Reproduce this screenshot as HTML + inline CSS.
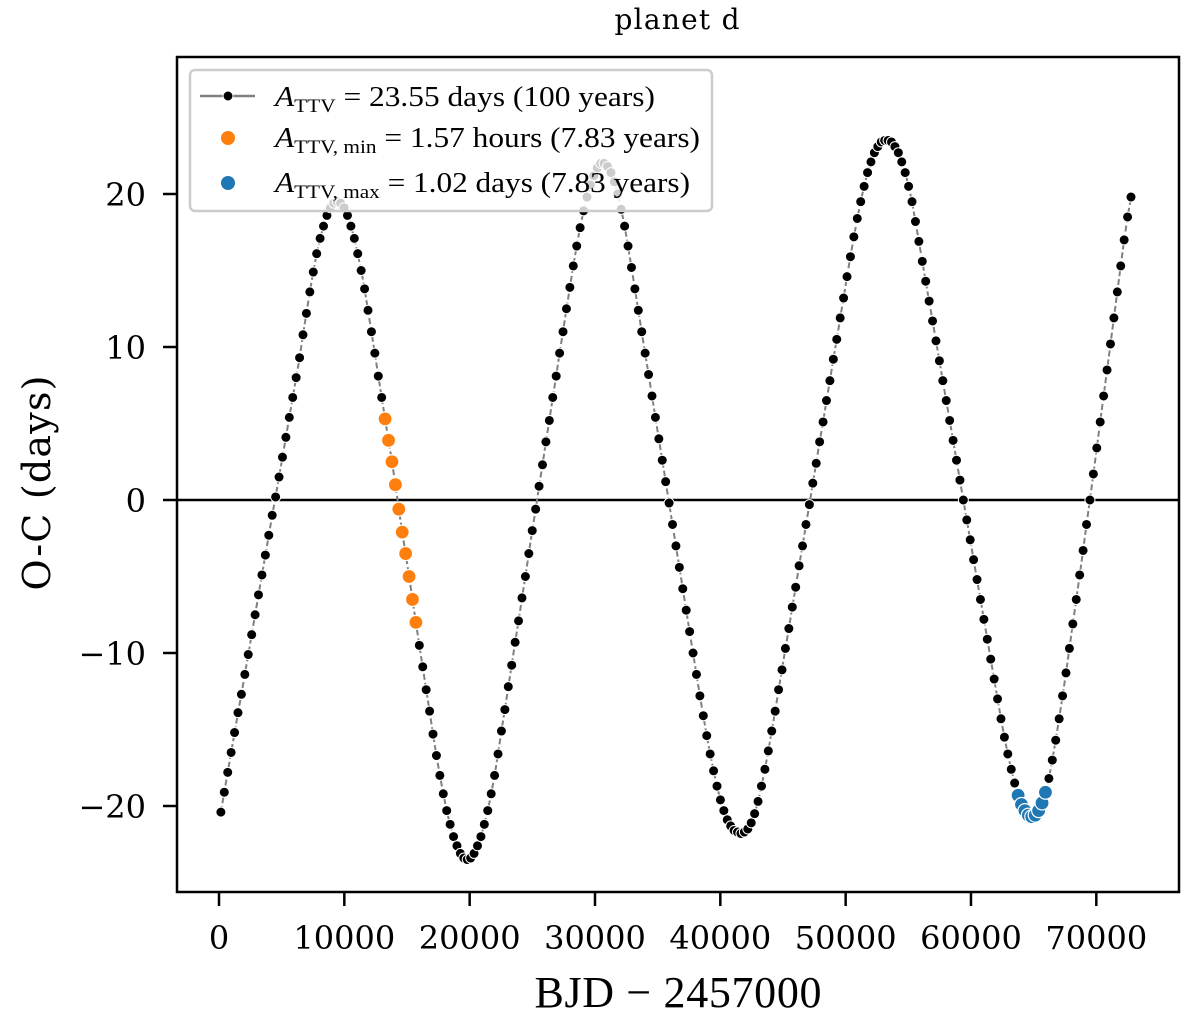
<!DOCTYPE html>
<html><head><meta charset="utf-8"><style>
html,body{margin:0;padding:0;background:#fff;}
svg{display:block;}
</style></head><body>
<svg id="chart" xmlns="http://www.w3.org/2000/svg" width="1200" height="1022" viewBox="0 0 1200 1022">
<rect width="1200" height="1022" fill="#fff"/>
<text x="677" y="29" font-family="DejaVu Serif, serif" font-size="28" text-anchor="middle" textLength="125">planet d</text>
<g id="plot"></g>
<rect x="177" y="57" width="1002" height="835" fill="none" stroke="#000" stroke-width="2.5"/>
<g id="ticks"></g>
<text x="678" y="1007" font-family="Liberation Serif, serif" font-size="44" text-anchor="middle" textLength="287">BJD − 2457000</text>
<text transform="translate(50,483) rotate(-90)" font-family="DejaVu Serif, serif" font-size="38" text-anchor="middle" textLength="215">O-C (days)</text>
<g>
<rect x="190" y="70" width="522" height="141" rx="5" fill="rgba(255,255,255,0.8)" stroke="#ccc" stroke-width="2.5"/>
<g>
<line x1="200" y1="96" x2="255" y2="96" stroke="#808080" stroke-width="2.5"/>
<circle cx="228" cy="96" r="5" fill="#000" stroke="#fff" stroke-width="1"/>
<text x="275" y="106" font-family="Liberation Serif, serif" font-size="28" textLength="380" lengthAdjust="spacingAndGlyphs"><tspan font-style="italic">A</tspan><tspan font-size="19" dy="6">TTV</tspan><tspan dy="-6"> = 23.55 days (100 years)</tspan></text>
</g>
<g>
<circle cx="228" cy="138" r="7" fill="#ff7f0e"/>
<text x="275" y="147" font-family="Liberation Serif, serif" font-size="28" textLength="425" lengthAdjust="spacingAndGlyphs"><tspan font-style="italic">A</tspan><tspan font-size="19" dy="6">TTV, min</tspan><tspan dy="-6"> = 1.57 hours (7.83 years)</tspan></text>
</g>
<g>
<circle cx="228" cy="183" r="7" fill="#1f77b4"/>
<text x="275" y="192" font-family="Liberation Serif, serif" font-size="28" textLength="415" lengthAdjust="spacingAndGlyphs"><tspan font-style="italic">A</tspan><tspan font-size="19" dy="6">TTV, max</tspan><tspan dy="-6"> = 1.02 days (7.83 years)</tspan></text>
</g>
</g>
</svg>
<script>
const t0 = 150;
const dt = 273;
const ocValues = [
-20.4,-19.1,-17.8,-16.5,-15.2,-13.9,-12.7,-11.4,-10.1,-8.8,-7.5,-6.2,-4.9,-3.6,-2.3,-1.0,0.2,1.5,2.8,4.1,5.4,6.7,8.0,9.3,
10.8,12.2,13.6,14.9,16.1,17.1,17.9,18.6,19.1,19.4,19.5,19.4,19.1,18.6,17.9,17.1,16.1,15.0,13.8,12.4,11.0,9.6,8.1,6.7,
5.3,3.9,2.5,1.0,-0.6,-2.1,-3.5,-5.0,-6.5,-8.0,
-9.5,-10.9,-12.4,-13.8,-15.3,-16.7,-18.0,-19.2,-20.3,-21.2,-22.0,-22.6,-23.1,-23.4,-23.5,-23.4,-23.1,-22.6,-22.0,-21.2,-20.3,-19.2,-18.0,
-16.6,-15.1,-13.7,-12.2,-10.8,-9.3,-7.9,-6.4,-5.0,-3.5,-2.0,-0.6,0.9,2.3,3.8,5.2,6.7,8.1,9.6,11.0,12.5,13.9,15.3,16.6,17.8,18.9,19.8,20.6,21.2,21.7,22.0,22.0,21.8,21.4,20.8,20.0,19.0,17.9,16.6,
15.2,13.8,12.4,11.0,9.6,8.2,6.8,5.4,4.0,2.6,1.2,-0.2,-1.6,-3.0,-4.4,-5.8,-7.2,-8.6,-10.0,-11.4,-12.8,-14.1,-15.4,-16.6,-17.7,-18.7,-19.6,-20.3,-20.9,
-21.3,-21.6,-21.7,-21.8,-21.7,-21.5,-21.1,-20.5,-19.7,-18.7,-17.6,-16.4,-15.1,
-13.8,-12.4,-11.1,-9.7,-8.4,-7.0,-5.7,-4.3,-3.0,-1.6,-0.3,1.1,2.4,3.8,5.1,6.5,7.8,9.2,10.5,11.9,13.2,14.6,15.9,17.2,18.4,19.5,20.5,21.4,22.1,22.7,23.1,23.4,23.5,
23.5,23.4,23.1,22.7,22.1,21.4,20.5,19.5,
18.2,16.9,15.6,14.3,13.0,11.7,10.4,9.1,7.8,6.5,5.2,3.9,2.6,1.3,0.0,-1.3,-2.6,-3.9,-5.2,-6.5,-7.8,-9.1,-10.4,-11.7,-13.0,-14.3,-15.5,-16.6,-17.6,
-18.5,-19.3,-19.9,-20.3,-20.6,-20.7,-20.6,-20.3,-19.8,-19.1,-18.2,
-17.0,-15.7,-14.3,-12.8,-11.3,-9.7,-8.1,-6.5,-4.9,-3.3,-1.6,0.0,1.7,3.4,5.1,6.8,8.5,10.2,11.9,13.6,15.3,17.0,18.5,19.8
];
const minWindow = [48, 10];
const maxWindow = [233, 9];
const xTicks = [0,10000,20000,30000,40000,50000,60000,70000];
const yTicks = [-20,-10,0,10,20];
const yTickLabels = ["−20","−10","0","10","20"];

const NS = "http://www.w3.org/2000/svg";
function xs(t){ return 219 + t * 0.012533; }
function ys(v){ return 500 - v * 15.3; }
function mk(tag, attrs, parent){ const e=document.createElementNS(NS,tag); for(const k in attrs) e.setAttribute(k,attrs[k]); parent.appendChild(e); return e; }
const plot = document.getElementById('plot');
const ticks = document.getElementById('ticks');

const zl = mk('line',{x1:177,x2:1179,y1:ys(0),y2:ys(0),stroke:'#000','stroke-width':2.5},plot);



let d = '';
ocValues.forEach((v,i)=>{ d += (i?'L':'M') + xs(t0+i*dt).toFixed(1) + ' ' + ys(v).toFixed(1); });
const ln = mk('path',{d:d,fill:'none',stroke:'#808080','stroke-width':2,'stroke-dasharray':'6,3'},plot);



ocValues.forEach((v,i)=>{
  const c = mk('circle',{cx:xs(t0+i*dt),cy:ys(v),r:5,fill:'#000',stroke:'#fff','stroke-width':1},plot);
  
  
});
for(let k=0;k<minWindow[1];k++){
  const i = minWindow[0]+k;
  const c = mk('circle',{cx:xs(t0+i*dt),cy:ys(ocValues[i]),r:7,fill:'#ff7f0e',stroke:'#fff','stroke-width':1.2},plot);
  
  
}
for(let k=0;k<maxWindow[1];k++){
  const i = maxWindow[0]+k;
  const c = mk('circle',{cx:xs(t0+i*dt),cy:ys(ocValues[i]),r:7,fill:'#1f77b4',stroke:'#fff','stroke-width':1.2},plot);
  
  
}

xTicks.forEach(t=>{
  const x = xs(t);
  const l = mk('line',{x1:x,x2:x,y1:892,y2:906,stroke:'#000','stroke-width':2.5},ticks);
  
  
  const tx = mk('text',{x:x,y:949,'font-family':'DejaVu Serif, serif','font-size':32,'text-anchor':'middle'},ticks);
  tx.textContent = String(t);
  
  
});
yTicks.forEach((v,i)=>{
  const y = ys(v);
  const l = mk('line',{x1:163,x2:177,y1:y,y2:y,stroke:'#000','stroke-width':2.5},ticks);
  
  
  const tx = mk('text',{x:146,y:y+12,'font-family':'DejaVu Serif, serif','font-size':32,'text-anchor':'end'},ticks);
  tx.textContent = yTickLabels[i];
  
  
});
</script>
</body></html>
